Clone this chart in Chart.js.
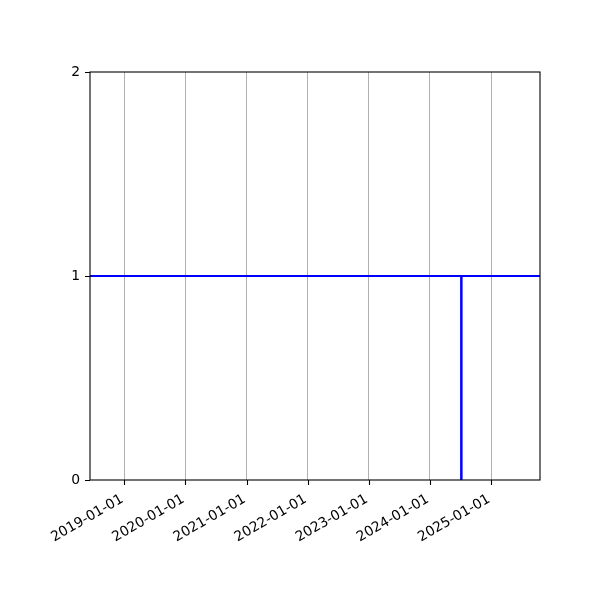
<!DOCTYPE html>
<html>
<head>
<meta charset="utf-8">
<script src="https://cdn.jsdelivr.net/npm/chart.js@4.4.1/dist/chart.umd.min.js"></script>
<style>
  html, body { margin: 0; padding: 0; background: #fff; }
  #chart { display: block; }
</style>
</head>
<body>
<canvas id="chart" width="600" height="600"></canvas>
<script>
// Chart values
const axisRange = ['2018-06-10', '2025-10-20'];
const tickDates = ['2019-01-01', '2020-01-01', '2021-01-01', '2022-01-01', '2023-01-01', '2024-01-01', '2025-01-01'];
const yTicks = [0, 1, 2];

// horizontal level at 1 across the whole range
const levelDates = ['2018-06-10', '2025-10-20'];
const levelValues = [1, 1];

// vertical marker
const markerDates = ['2024-07-07', '2024-07-07'];
const markerValues = [0, 1];

const toMs = d => Date.parse(d);
const pad2 = n => String(n).padStart(2, '0');
function formatDate(ms) {
    const d = new Date(ms);
    return d.getUTCFullYear() + '-' + pad2(d.getUTCMonth() + 1) + '-' + pad2(d.getUTCDate());
}

const toPoints = (xs, ys) => xs.map((x, i) => ({ x: toMs(x), y: ys[i] }));

// Draws the axes frame and the outward tick marks, like matplotlib spines
const framePlugin = {
    id: 'frame',
    afterDraw(chart) {
        const { ctx, chartArea: a, scales } = chart;
        ctx.save();
        ctx.strokeStyle = '#000';
        ctx.lineWidth = 1.1;
        ctx.beginPath();
        scales.x.ticks.forEach(t => {
            const px = Math.round(scales.x.getPixelForValue(t.value)) + 0.5;
            ctx.moveTo(px, a.bottom);
            ctx.lineTo(px, a.bottom + 5);
        });
        scales.y.ticks.forEach(t => {
            const py = Math.round(scales.y.getPixelForValue(t.value)) + 0.5;
            ctx.moveTo(a.left, py);
            ctx.lineTo(a.left - 5, py);
        });
        ctx.stroke();
        ctx.strokeRect(a.left, a.top, a.right - a.left, a.bottom - a.top);
        ctx.restore();
    }
};

const tickFont = { family: 'DejaVu Sans', size: 13.9 };

new Chart(document.getElementById('chart'), {
    type: 'line',
    data: {
        datasets: [
            { data: toPoints(levelDates, levelValues), borderColor: '#0000ff', borderWidth: 2, pointRadius: 0, fill: false },
            { data: toPoints(markerDates, markerValues), borderColor: '#0000ff', borderWidth: 2.5, pointRadius: 0, fill: false }
        ]
    },
    options: {
        responsive: false,
        animation: false,
        devicePixelRatio: 1,
        layout: { padding: { left: 0, top: 72, right: 60, bottom: 0 } },
        plugins: { legend: { display: false }, tooltip: { enabled: false } },
        scales: {
            x: {
                type: 'linear',
                min: toMs(axisRange[0]),
                max: toMs(axisRange[1]),
                afterBuildTicks: scale => { scale.ticks = tickDates.map(d => ({ value: toMs(d) })); },
                afterFit: scale => { scale.height = 120; },
                grid: { color: '#b0b0b0', lineWidth: 1, drawTicks: false },
                border: { display: false },
                ticks: {
                    autoSkip: false,
                    minRotation: 30,
                    maxRotation: 30,
                    padding: 11,
                    labelOffset: -2,
                    color: '#000',
                    font: tickFont,
                    callback: value => formatDate(value)
                }
            },
            y: {
                min: 0,
                max: 2,
                afterBuildTicks: scale => { scale.ticks = yTicks.map(v => ({ value: v })); },
                afterFit: scale => { scale.width = 90; },
                grid: { display: false, drawTicks: false },
                border: { display: false },
                ticks: { padding: 10, color: '#000', font: tickFont }
            }
        }
    },
    plugins: [framePlugin]
});
</script>
</body>
</html>
